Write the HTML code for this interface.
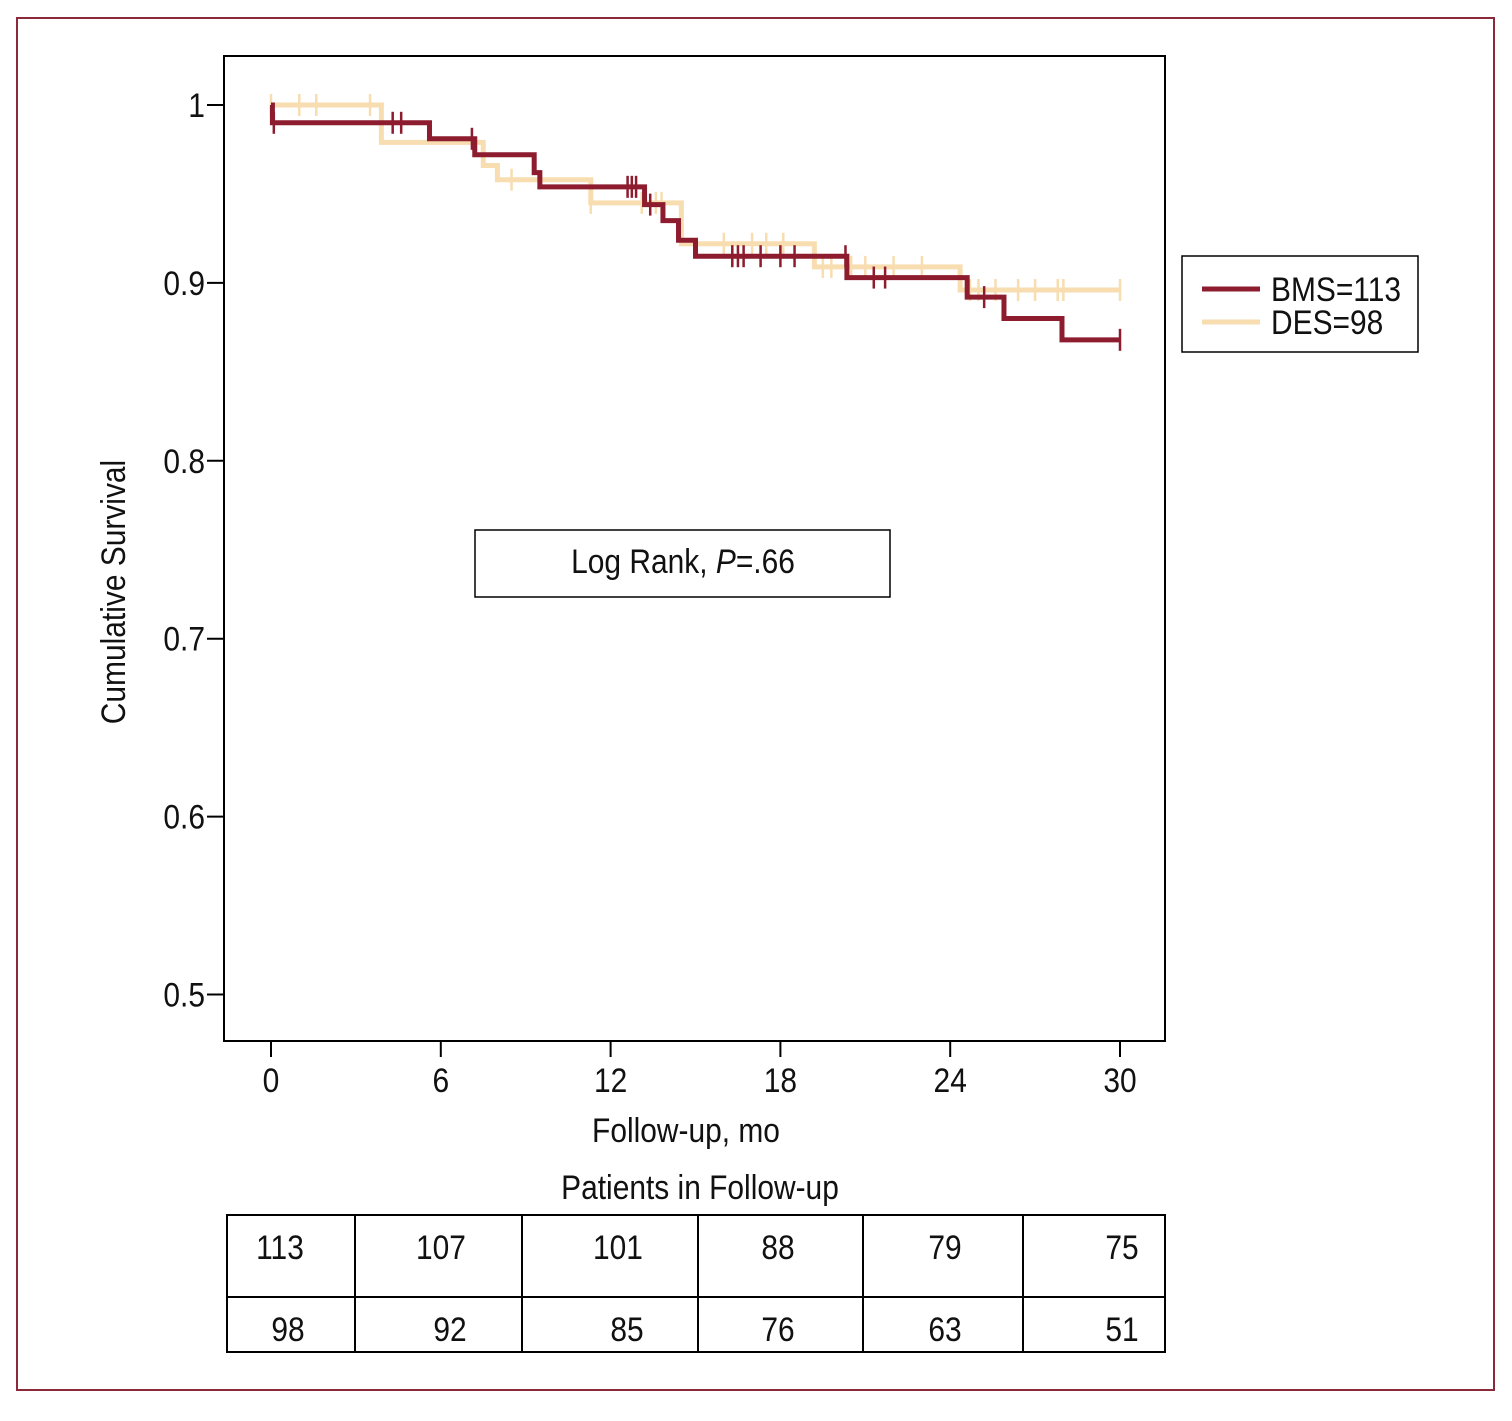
<!DOCTYPE html>
<html><head><meta charset="utf-8"><style>
html,body{margin:0;padding:0;background:#fff;}
svg text{font-family:"Liberation Sans Narrow","Liberation Sans",sans-serif;fill:#111;}
</style></head><body>
<svg width="1512" height="1416" viewBox="0 0 1512 1416" xmlns="http://www.w3.org/2000/svg">
<rect x="17" y="18" width="1477" height="1372" fill="none" stroke="#8b2a3a" stroke-width="2"/>
<rect x="224" y="56" width="941" height="985" fill="none" stroke="#000" stroke-width="2"/>
<g id="axes"></g>
<g id="series"></g>
<text x="125" y="592" font-size="34" text-anchor="middle" transform="rotate(-90 125 592)">Cumulative Survival</text>
<text x="686" y="1142" font-size="34" text-anchor="middle">Follow-up, mo</text>
<rect x="475" y="530" width="415" height="67" fill="#fff" stroke="#000" stroke-width="1.5"/>
<text x="683" y="573" font-size="34" text-anchor="middle">Log Rank, <tspan font-style="italic">P</tspan>=.66</text>
<g>
<rect x="1182" y="256" width="236" height="96" fill="#fff" stroke="#000" stroke-width="1.5"/>
<line x1="1202" y1="289" x2="1260" y2="289" stroke="#8c1c2e" stroke-width="5"/>
<text x="1271" y="301" font-size="34">BMS=113</text>
<line x1="1202" y1="322" x2="1260" y2="322" stroke="#f7ddb0" stroke-width="5"/>
<text x="1271" y="334" font-size="34">DES=98</text>
</g>
<text x="700" y="1199" font-size="34" text-anchor="middle">Patients in Follow-up</text>
<g id="table"></g>
</svg>
<script>
const xTicks=[0,6,12,18,24,30];
const yTicks=[1,0.9,0.8,0.7,0.6,0.5];
const yTickLabels=["1","0.9","0.8","0.7","0.6","0.5"];
const bmsTimes=[0,0.05,5.6,7.2,9.3,9.5,13.2,13.85,14.4,15.0,20.35,24.6,25.9,27.95,30];
const bmsSurv=[1,0.99,0.981,0.972,0.962,0.954,0.944,0.935,0.924,0.915,0.903,0.892,0.880,0.868,0.868];
const desTimes=[0,3.9,7.5,8.0,11.3,14.5,19.2,24.35,30];
const desSurv=[1,0.979,0.966,0.958,0.945,0.922,0.909,0.896,0.896];
const bmsCensor=[0.1,4.3,4.6,7.1,12.6,12.75,12.9,13.4,16.3,16.5,16.7,17.3,18.0,18.5,20.3,21.3,21.7,25.2,30];
const desCensor=[0,1.0,1.6,3.5,8.5,11.3,13.1,13.6,13.8,16.0,17.0,17.5,18.1,19.5,19.8,20.5,21.0,22.0,23.0,24.7,25.0,25.6,26.4,27.0,27.8,28.0,30];
const bmsAtRisk=["113","107","101","88","79","75"];
const desAtRisk=["98","92","85","76","63","51"];
const NS="http://www.w3.org/2000/svg";
const X=m=>271+m*(1120-271)/30;
const Y=v=>105+(1-v)*1779;
function mk(tag,attrs,parent){const e=document.createElementNS(NS,tag);for(const k in attrs)e.setAttribute(k,attrs[k]);parent.appendChild(e);return e;}
const axes=document.getElementById('axes');
xTicks.forEach(t=>{
  const l=mk('line',{x1:X(t),x2:X(t),y1:1041,y2:1057,stroke:'#000','stroke-width':2},axes);
  
  
  const tx=mk('text',{x:X(t),y:1092,'font-size':34,'text-anchor':'middle'},axes);tx.textContent=t;
  
  
});
yTicks.forEach((t,i)=>{
  const l=mk('line',{x1:207,x2:224,y1:Y(t),y2:Y(t),stroke:'#000','stroke-width':2},axes);
  
  
  const tx=mk('text',{x:205,y:Y(t)+12,'font-size':34,'text-anchor':'end'},axes);tx.textContent=yTickLabels[i];
  
  
});
function survAt(ts,ss,t){let v=ss[0];for(let i=0;i<ts.length;i++){if(ts[i]<=t)v=ss[i];}return v;}
function drawSeries(ts,ss,cens,color,name){
  const g=document.getElementById('series');
  let d='M'+X(ts[0])+' '+Y(ss[0]);
  for(let i=1;i<ts.length;i++){d+=' H'+X(ts[i])+' V'+Y(ss[i]);}
  const p=mk('path',{d:d,fill:'none',stroke:color,'stroke-width':5},g);
  
  
  cens.forEach(c=>{
    const v=survAt(ts,ss,c);
    const l=mk('line',{x1:X(c),x2:X(c),y1:Y(v)-11,y2:Y(v)+11,stroke:color,'stroke-width':2.5},g);
    
    
  });
}
drawSeries(desTimes,desSurv,desCensor,'#f7ddb0','des');
drawSeries(bmsTimes,bmsSurv,bmsCensor,'#8c1c2e','bms');
const tb=document.getElementById('table');
const cols=[227,355,522,698,863,1023,1165];
const r=mk('rect',{x:227,y:1215,width:938,height:137,fill:'none',stroke:'#000','stroke-width':2},tb);


const hl=mk('line',{x1:227,x2:1165,y1:1297,y2:1297,stroke:'#000','stroke-width':2},tb);


for(let i=1;i<cols.length-1;i++){
  const vl=mk('line',{x1:cols[i],x2:cols[i],y1:1215,y2:1352,stroke:'#000','stroke-width':2},tb);
  
  
}
const bmsX=[280,441,618,778,945,1122];
const desX=[288,450,627,778,945,1122];
bmsAtRisk.forEach((v,i)=>{const t=mk('text',{x:bmsX[i],y:1259,'font-size':34,'text-anchor':'middle'},tb);t.textContent=v;
  
  });
desAtRisk.forEach((v,i)=>{const t=mk('text',{x:desX[i],y:1341,'font-size':34,'text-anchor':'middle'},tb);t.textContent=v;
  
  });
// condense text horizontally to mimic a narrow font
document.querySelectorAll('svg text').forEach(t=>{
  const w=t.getComputedTextLength();
  if(w>0){t.setAttribute('textLength',(w*0.88).toFixed(1));t.setAttribute('lengthAdjust','spacingAndGlyphs');}
});
</script>
</body></html>
